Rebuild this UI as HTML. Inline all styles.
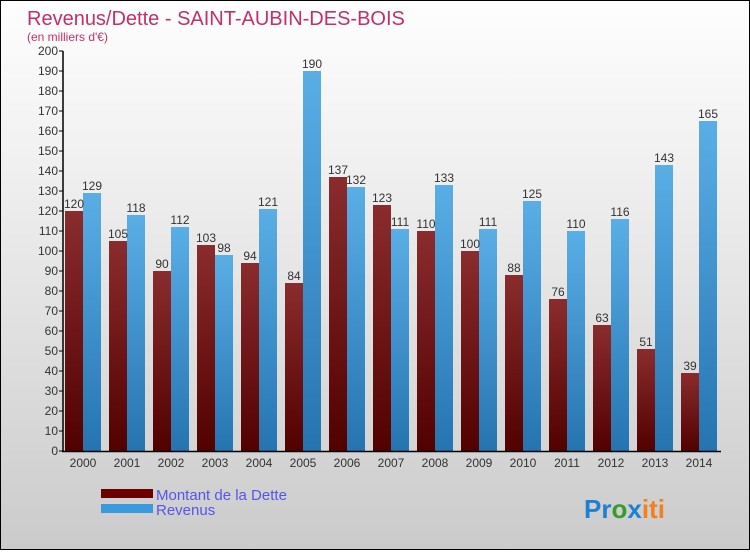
<!DOCTYPE html>
<html><head><meta charset="utf-8"><style>
body{margin:0;width:750px;height:550px;overflow:hidden;font-family:"Liberation Sans",sans-serif}
#c{position:absolute;left:0;top:0;width:748px;height:548px;border:1px solid #000;background:linear-gradient(#fefefe,#f0f0f0 30%,#cbcbcb)}
</style></head><body>
<div id="c">
<svg width="750" height="550" id="svg">
<defs>
<linearGradient id="gd" x1="0" y1="0" x2="0" y2="1"><stop offset="0" stop-color="#8a2c2e"/><stop offset="1" stop-color="#520000"/></linearGradient>
<linearGradient id="gr" x1="0" y1="0" x2="0" y2="1"><stop offset="0" stop-color="#5aaee6"/><stop offset="1" stop-color="#2574b0"/></linearGradient>
</defs>
<text x="26" y="24" font-size="20" fill="#c0306a">Revenus/Dette - SAINT-AUBIN-DES-BOIS</text>
<text x="26" y="40" font-size="12" fill="#c0306a">(en milliers d'€)</text>
<g id="plot"></g>
<rect x="100" y="488" width="52" height="9" fill="#6a0000"/>
<rect x="100" y="503" width="52" height="9" fill="#3a9ae0"/>
<text x="155" y="499" font-size="15" fill="#5555ee">Montant de la Dette</text>
<text x="155" y="514" font-size="15" fill="#5555ee">Revenus</text>
<text x="583" y="517" font-size="26" font-weight="bold"><tspan fill="#1f7fd0">Pr</tspan><tspan fill="#3a9a2a">o</tspan><tspan fill="#1f7fd0">x</tspan><tspan fill="#f08020">iti</tspan></text>
</svg></div>
<script>
const years=["2000","2001","2002","2003","2004","2005","2006","2007","2008","2009","2010","2011","2012","2013","2014"];
const debt=[120,105,90,103,94,84,137,123,110,100,88,76,63,51,39];
const revenue=[129,118,112,98,121,190,132,111,133,111,125,110,116,143,165];
const yTicks=[0,10,20,30,40,50,60,70,80,90,100,110,120,130,140,150,160,170,180,190,200];
const NS="http://www.w3.org/2000/svg";
const g=document.getElementById('plot');
const y=v=>450-v*2;
const gx=i=>64+i*44;
function mk(t,a,txt){const e=document.createElementNS(NS,t);for(const k in a)e.setAttribute(k,a[k]);if(txt!==undefined)e.textContent=txt;g.appendChild(e);return e;}
yTicks.forEach(t=>{
 const l=mk('line',{x1:58,x2:62,y1:y(t),y2:y(t),stroke:'#000'});
 
 
 const tx=mk('text',{x:57,y:y(t)+4,'font-size':12,'text-anchor':'end',fill:'#333'},t);
 
 
});
years.forEach((yr,i)=>{
 const b1=mk('rect',{x:gx(i),y:y(debt[i]),width:18,height:debt[i]*2,fill:'url(#gd)'});
 
 
 const b2=mk('rect',{x:gx(i)+18,y:y(revenue[i]),width:18,height:revenue[i]*2,fill:'url(#gr)'});
 
 
 const t1=mk('text',{x:gx(i)+9,y:y(debt[i])-3,'font-size':12,'text-anchor':'middle',fill:'#333'},debt[i]);
 
 
 const t2=mk('text',{x:gx(i)+27,y:y(revenue[i])-3,'font-size':12,'text-anchor':'middle',fill:'#333'},revenue[i]);
 
 
 const xl=mk('text',{x:gx(i)+18,y:466,'font-size':12,'text-anchor':'middle',fill:'#333'},yr);
 
 
});
const ya=mk('line',{x1:62,x2:62,y1:50,y2:451,stroke:'#000','stroke-width':1.5});


const xa=mk('line',{x1:61,x2:720,y1:450.5,y2:450.5,stroke:'#000','stroke-width':1.5});


</script>
</body></html>
